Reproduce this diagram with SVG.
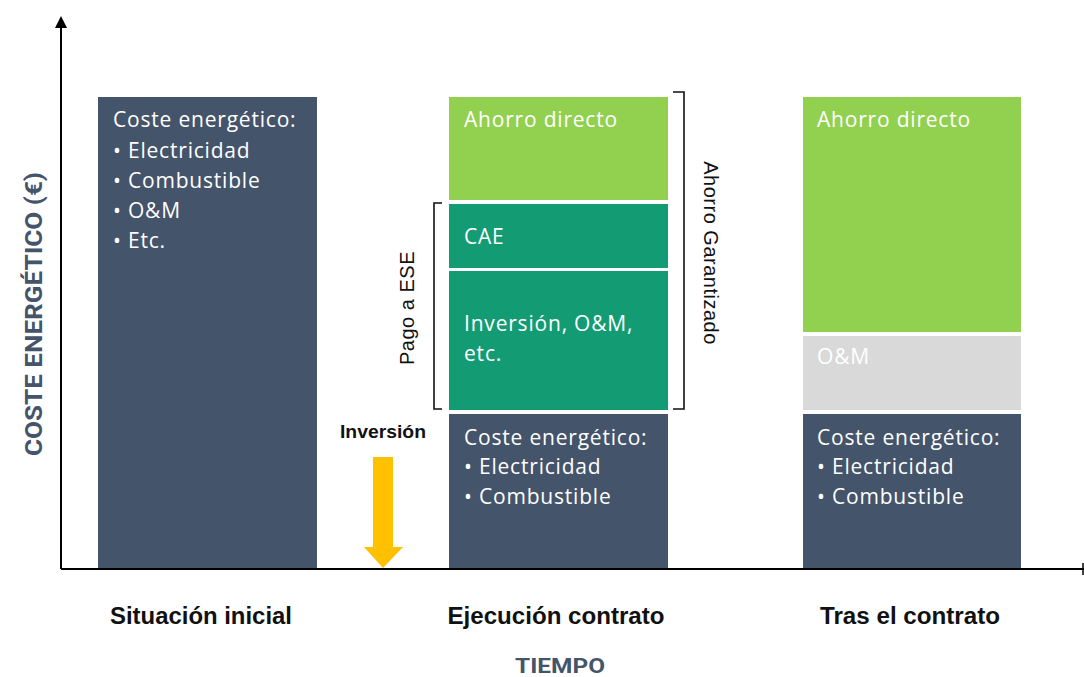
<svg xmlns="http://www.w3.org/2000/svg" width="1084" height="677" viewBox="0 0 1084 677">
<defs>
<style>
.dark{fill:#44546a}
.lg{fill:#92d050}
.tq{fill:#139b74}
.gr{fill:#d9d9d9}
.bt{font-family:"Open Sans","Liberation Sans",sans-serif;font-size:21px;letter-spacing:0.8px;fill:#ffffff}
.lbl{font-family:"Liberation Sans",sans-serif;font-size:23px;font-weight:bold;fill:#111111}
.ax{font-family:"Roboto","Liberation Sans",sans-serif;font-weight:bold;fill:#44546a}
.br{fill:none;stroke:#111111;stroke-width:1.6}
.side{font-family:"Liberation Sans",sans-serif;font-size:20px;letter-spacing:0.5px;fill:#111111}
</style>
<marker id="ah" markerWidth="12" markerHeight="12" refX="6" refY="6" orient="auto" markerUnits="userSpaceOnUse">
<path d="M0,0 L12,6 L0,12 z" fill="#000"/>
</marker>
</defs>
<rect width="1084" height="677" fill="#ffffff"/>

<g id="bar-inicial">
<rect class="dark" x="98" y="97" width="219" height="472"/>
<text class="bt" x="113" y="127">Coste energético:</text>
<text class="bt" x="113" y="158">• Electricidad</text>
<text class="bt" x="113" y="188">• Combustible</text>
<text class="bt" x="113" y="218">• O&amp;M</text>
<text class="bt" x="113" y="248">• Etc.</text>
</g>

<g id="bar-ejecucion">
<rect class="lg" x="449" y="97" width="219" height="103"/>
<text class="bt" x="464" y="127">Ahorro directo</text>
<rect class="tq" x="449" y="204" width="219" height="64"/>
<text class="bt" x="464" y="244">CAE</text>
<rect class="tq" x="449" y="271" width="219" height="139"/>
<text class="bt" x="464" y="331">Inversión, O&amp;M,</text>
<text class="bt" x="464" y="361">etc.</text>
<rect class="dark" x="449" y="414" width="219" height="155"/>
<text class="bt" x="464" y="445">Coste energético:</text>
<text class="bt" x="464" y="474">• Electricidad</text>
<text class="bt" x="464" y="504">• Combustible</text>
</g>

<g id="bar-tras">
<rect class="lg" x="803" y="97" width="218" height="235"/>
<text class="bt" x="817" y="127">Ahorro directo</text>
<rect class="gr" x="803" y="336" width="218" height="74"/>
<text class="bt" x="817" y="364">O&amp;M</text>
<rect class="dark" x="803" y="414" width="218" height="155"/>
<text class="bt" x="817" y="445">Coste energético:</text>
<text class="bt" x="817" y="474">• Electricidad</text>
<text class="bt" x="817" y="504">• Combustible</text>
</g>

<g id="pago-ese">
<path class="br" d="M442,203 H434 V409 H442"/>
<text class="side" transform="translate(414,308) rotate(-90)" text-anchor="middle">Pago a ESE</text>
</g>

<g id="ahorro-garantizado">
<path class="br" d="M673,92 H684 V409 H673"/>
<text class="side" transform="translate(704,253) rotate(90)" text-anchor="middle">Ahorro Garantizado</text>
</g>

<g id="inversion">
<text x="383" y="438" text-anchor="middle" font-family="Liberation Sans, sans-serif" font-size="18" font-weight="bold" fill="#111111" textLength="86" lengthAdjust="spacingAndGlyphs">Inversión</text>
<path d="M373,457 H393 V547 H403 L383,568 L364,547 H373 Z" fill="#ffc000"/>
</g>

<g id="connectors">
<line x1="61" y1="569" x2="61" y2="22" stroke="#000" stroke-width="2" marker-end="url(#ah)"/>
<line x1="61" y1="569" x2="1084" y2="569" stroke="#000" stroke-width="2"/>
<line x1="1083" y1="563" x2="1083" y2="575" stroke="#000" stroke-width="1.5"/>
</g>

<g id="labels">
<text class="lbl" x="201" y="624" text-anchor="middle" textLength="182" lengthAdjust="spacingAndGlyphs">Situación inicial</text>
<text class="lbl" x="556" y="624" text-anchor="middle" textLength="217" lengthAdjust="spacingAndGlyphs">Ejecución contrato</text>
<text class="lbl" x="910" y="624" text-anchor="middle" textLength="180" lengthAdjust="spacingAndGlyphs">Tras el contrato</text>
<text class="ax" x="560" y="673" text-anchor="middle" font-size="21" textLength="90" lengthAdjust="spacingAndGlyphs">TIEMPO</text>
<text class="ax" transform="translate(42,314) rotate(-90)" text-anchor="middle" font-size="24" textLength="284" lengthAdjust="spacingAndGlyphs">COSTE ENERGÉTICO (€)</text>
</g>
</svg>
